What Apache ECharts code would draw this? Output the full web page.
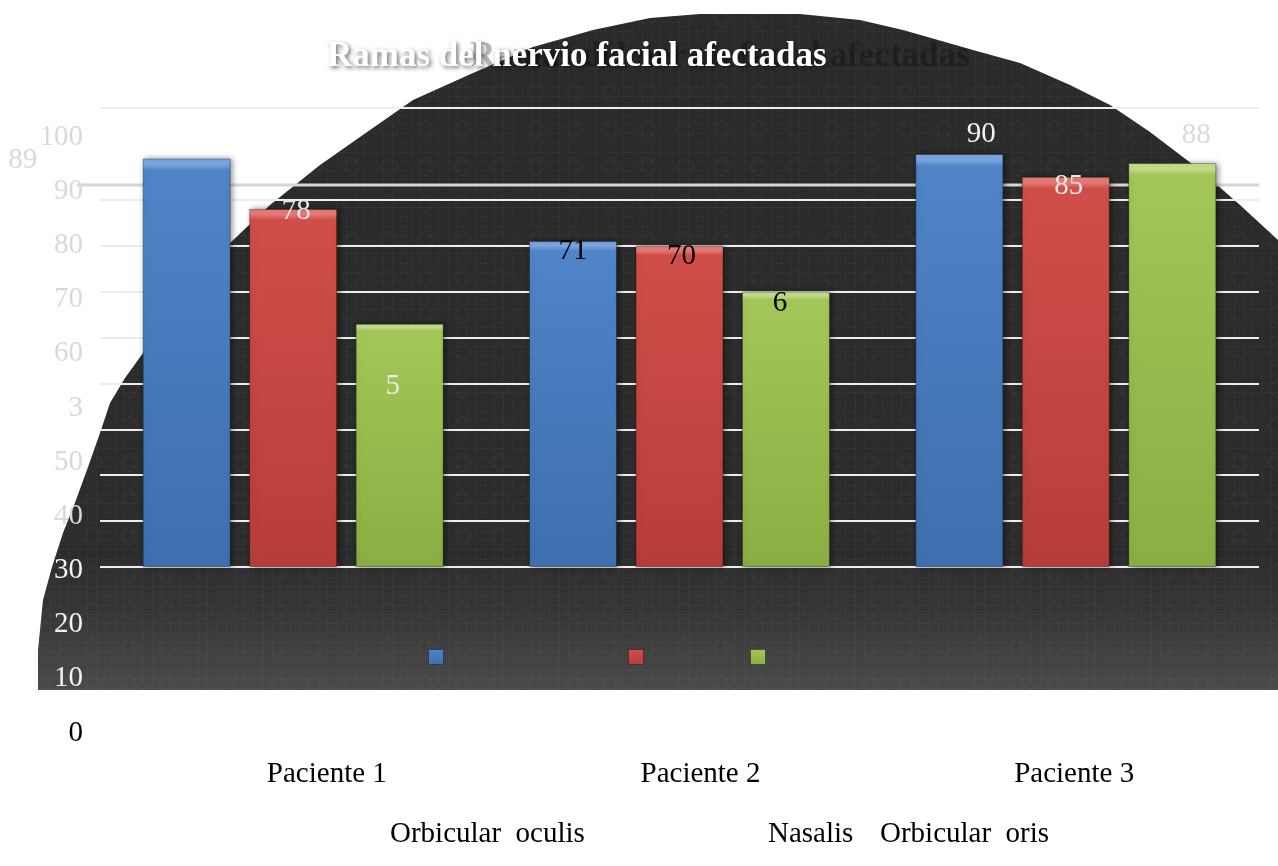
<!DOCTYPE html>
<html>
<head>
<meta charset="utf-8">
<script src="https://cdn.jsdelivr.net/npm/echarts@6/dist/echarts.min.js"></script>
<style>
  html, body { margin: 0; padding: 0; background: #ffffff; }
  #chart { width: 1278px; height: 866px; }
</style>
</head>
<body>
<div id="chart"></div>
<script>
// Patients on the category axis, facial-nerve branches as series
const categories = ['Paciente 1', 'Paciente 2', 'Paciente 3'];
const seriesNames = ['Orbicular oculis', 'Nasalis', 'Orbicular oris'];

const orbicularOculis = [89, 71, 90];
const nasalis = [78, 70, 85];
const orbicularOris = [53, 60, 88];

// Text printed on each bar, per series
const oculisLabels = ['89', '71', '90'];
const nasalisLabels = ['78', '70', '85'];
const orisLabels = ['5', '6', '88'];

// Tick labels of the printed value scale, bottom to top
const yTickLabels = ['0', '10', '20', '30', '40', '50', '3', '60', '70', '80', '90', '100'];

const chartTitle = 'Ramas del nervio facial afectadas';

const seriesValues = [orbicularOculis, nasalis, orbicularOris];
const seriesLabels = [oculisLabels, nasalisLabels, orisLabels];

const FONT = '"Liberation Serif", "Times New Roman", serif';

// vertical bar gradients: highlight, body, shade
const barPalette = [
  ['#7aa5dd', '#4f84c8', '#3e6fae'],
  ['#e57a76', '#d04e4a', '#b73d39'],
  ['#c2dc8c', '#a4c658', '#8aae43']
];

// label placement relative to the bar top: [dx, dy, colour]
const labelLook = [
  [[-164, 21, '#d9d9d9'], [0, 30, '#000000'], [22, 0, '#f2f2f2']],
  [[3, 22, '#e6e6e6'], [2, 30, '#000000'], [3, 29, '#e6e6e6']],
  [[-7, 82, '#eaeaea'], [-6, 31, '#000000'], [24, -8, '#d9d9d9']]
];

// subtle woven texture for the dark backdrop
function makeTexture() {
  const c = document.createElement('canvas');
  c.width = 37; c.height = 37;
  const g = c.getContext('2d');
  g.fillStyle = 'rgba(255,255,255,0.06)';
  for (let i = 0; i < 37; i += 2) {
    for (const p of [4, 13, 22, 31]) {
      g.fillRect(i, p, 1, 1);
      g.fillRect(p, i, 1, 1);
    }
  }
  g.strokeStyle = 'rgba(255,255,255,0.06)';
  g.lineWidth = 1;
  g.beginPath();
  g.moveTo(18.5, 9); g.lineTo(28, 18.5); g.lineTo(18.5, 28); g.lineTo(9, 18.5);
  g.closePath();
  g.stroke();
  return c;
}

// outline of the dark dome behind the plot
const domeOutline = [
  [38, 690], [38, 650], [43, 600], [52, 567], [63, 533], [76, 500], [88, 467],
  [100, 433], [110, 403], [125, 378], [143, 353], [165, 320], [190, 288],
  [228, 245], [270, 205], [320, 165], [370, 130], [413, 100], [473, 73],
  [533, 47], [593, 30], [650, 18], [700, 14], [800, 14], [860, 20], [903, 30],
  [973, 50], [1020, 63], [1070, 85], [1110, 105], [1150, 132], [1200, 170],
  [1240, 205], [1278, 240], [1278, 690]
];

const chart = echarts.init(document.getElementById('chart'), null, { renderer: 'canvas' });

const gridLineColors = [];
for (let i = 0; i <= 10; i++) gridLineColors.push(i === 9 ? 'rgba(0,0,0,0)' : '#ededed');

const yLabelClass = { '0': 'k', '10': 'w', '20': 'w', '30': 'w' };

const titleStyle = {
  fontFamily: FONT, fontWeight: 'bold', fontSize: 35
};

const option = {
  backgroundColor: '#ffffff',
  animation: false,
  title: [
    {
      text: chartTitle, left: 465, top: 34,
      textStyle: Object.assign({
        color: 'rgba(0,0,0,0.26)', textShadowColor: 'rgba(0,0,0,0.2)', textShadowBlur: 3
      }, titleStyle)
    },
    {
      text: chartTitle, left: 322, top: 34,
      textStyle: Object.assign({
        color: '#ffffff', textShadowColor: 'rgba(0,0,0,0.55)',
        textShadowBlur: 4, textShadowOffsetX: 2, textShadowOffsetY: 2
      }, titleStyle)
    }
  ],
  graphic: [
    {
      type: 'polygon', z: -20, silent: true,
      shape: { points: domeOutline },
      style: {
        fill: new echarts.graphic.LinearGradient(0, 0, 0, 1, [
          { offset: 0, color: '#2a2a2a' },
          { offset: 0.8, color: '#2c2c2c' },
          { offset: 0.88, color: '#353535' },
          { offset: 1, color: '#4a4a4a' }
        ])
      }
    },
    {
      type: 'polygon', z: -19, silent: true,
      shape: { points: domeOutline },
      style: { fill: { image: makeTexture(), repeat: 'repeat' } }
    },
    {
      type: 'line', z: -5, silent: true,
      shape: { x1: 77, y1: 185, x2: 1259, y2: 185 },
      style: { stroke: '#d6d6d6', lineWidth: 3 }
    }
  ],
  legend: [
    // coloured keys
    ...seriesNames.map((n, i) => ({
      data: [n], left: [423, 623, 745][i], top: 644,
      icon: 'rect', itemWidth: 15, itemHeight: 15,
      formatter: () => '', selectedMode: false,
      itemStyle: { borderColor: 'rgba(0,0,0,0.35)', borderWidth: 1 }
    })),
    // names of the keys
    ...seriesNames.map((n, i) => ({
      data: [n], left: [380, 758, 870][i], top: 815,
      itemWidth: 0, itemHeight: 0, selectedMode: false,
      itemStyle: { color: 'rgba(0,0,0,0)', borderWidth: 0 },
      formatter: name => name.replace(' ', '\u2002'),
      textStyle: { fontFamily: FONT, fontSize: 29, color: '#000000' }
    }))
  ],
  grid: [
    { left: 100, right: 19, top: 108, bottom: 299 },
    { left: 140, right: 17, top: 137, bottom: 133 }
  ],
  xAxis: [
    {
      type: 'category', gridIndex: 0, data: categories,
      axisLine: { show: false }, axisTick: { show: false }, axisLabel: { show: false }
    },
    {
      type: 'category', gridIndex: 1, data: categories,
      axisLine: { show: false }, axisTick: { show: false },
      axisLabel: { margin: 27, fontFamily: FONT, fontSize: 29, color: '#000000' }
    }
  ],
  yAxis: [
    {
      type: 'value', gridIndex: 0, min: 0, max: 100, interval: 10,
      axisLine: { show: false }, axisTick: { show: false }, axisLabel: { show: false },
      splitLine: { show: true, lineStyle: { color: gridLineColors, width: 2 } }
    },
    {
      type: 'category', gridIndex: 1, data: yTickLabels, boundaryGap: false,
      axisLine: { show: false }, axisTick: { show: false }, splitLine: { show: false },
      axisLabel: {
        interval: 0, margin: 57,
        formatter: v => '{' + (yLabelClass[v] || 'g') + '|' + v + '}',
        rich: {
          g: { fontFamily: FONT, fontSize: 29, color: '#d9d9d9' },
          w: { fontFamily: FONT, fontSize: 29, color: '#f2f2f2' },
          k: { fontFamily: FONT, fontSize: 29, color: '#000000' }
        }
      }
    }
  ],
  series: seriesValues.map((vals, s) => ({
    name: seriesNames[s],
    type: 'bar',
    xAxisIndex: 0,
    yAxisIndex: 0,
    barWidth: 88,
    barGap: '21%',
    itemStyle: {
      color: new echarts.graphic.LinearGradient(0, 0, 0, 1, [
        { offset: 0, color: barPalette[s][0] },
        { offset: 0.015, color: barPalette[s][0] },
        { offset: 0.03, color: barPalette[s][1] },
        { offset: 1, color: barPalette[s][2] }
      ]),
      borderColor: 'rgba(0,0,0,0.3)',
      borderWidth: 1,
      shadowColor: 'rgba(0,0,0,0.45)',
      shadowBlur: 6,
      shadowOffsetX: 2
    },
    label: {
      show: true, position: 'top', distance: 5,
      fontFamily: FONT, fontSize: 29
    },
    data: vals.map((v, i) => ({
      value: v,
      label: {
        formatter: seriesLabels[s][i],
        offset: [labelLook[s][i][0], labelLook[s][i][1]],
        color: labelLook[s][i][2]
      }
    }))
  }))
};

chart.setOption(option);
</script>
</body>
</html>
